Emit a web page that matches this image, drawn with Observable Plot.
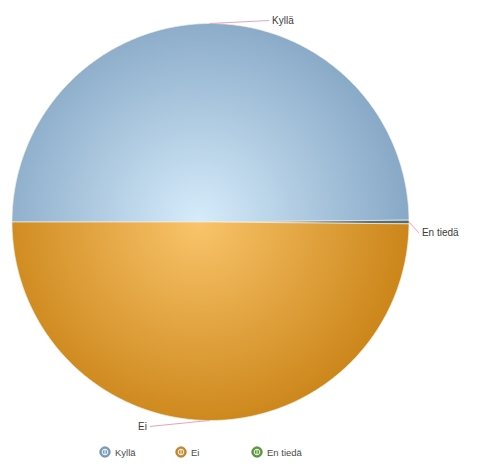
<!DOCTYPE html>
<html>
<head>
<meta charset="utf-8">
<script src="https://cdn.jsdelivr.net/npm/d3@7"></script>
<script src="https://cdn.jsdelivr.net/npm/@observablehq/plot@0.6"></script>
<style>
  body { margin: 0; background: #fff; font-family: "Liberation Sans", Arial, sans-serif; }
  #wrap { width: 478px; height: 466px; position: relative; }
  #legend { display: flex; align-items: center; padding-left: 99px; height: 22px; margin-top: 1px; }
  .item { display: flex; align-items: center; width: 76px; font-size: 9.5px; color: #4a4a4a; }
  .item svg { margin-right: 4px; }
</style>
</head>
<body>
<div id="wrap"><div id="chart"></div><div id="legend"></div></div>
<script>
// ---- data ----
const categories = ["Kyllä", "En tiedä", "Ei"];      // pie order (clockwise from 9 o'clock)
const values = [49.85, 0.3, 49.85];                  // percent
const legendOrder = ["Kyllä", "Ei", "En tiedä"];

// ---- styles ----
const palette = {
  "Kyllä":   { inner: "#d6ecfb", outer: "#88a9c7", icon: "#7f9fbe" },
  "Ei":      { inner: "#f9c46a", outer: "#cc861a", icon: "#c98a2e" },
  "En tiedä":{ inner: "#7f9aa8", outer: "#4f6a78", icon: "#5c9a3c" }
};

const slices = categories.map((name, i) => ({ name, value: values[i], id: "g" + i }));
const arcs = d3.pie().value(d => d.value).sort(null)
  .startAngle(-Math.PI / 2).endAngle(3 * Math.PI / 2)(slices);

// polygon outline of each slice in unit-circle coordinates
function slicePoints(a) {
  const pts = [{ x: 0, y: 0 }];
  const n = Math.max(2, Math.ceil((a.endAngle - a.startAngle) / (Math.PI / 360)));
  for (let k = 0; k <= n; k++) {
    const t = a.startAngle + (a.endAngle - a.startAngle) * k / n;
    pts.push({ x: Math.sin(t), y: Math.cos(t) });
  }
  pts.push({ x: 0, y: 0 });
  return pts;
}

// label leader geometry
const labels = arcs.map(a => {
  const m = (a.startAngle + a.endAngle) / 2;
  const ex = Math.sin(m), ey = Math.cos(m);
  const dir = Math.abs(ex) < 0.05 ? (ey > 0 ? 1 : -1) : Math.sign(ex);
  const small = a.data.value < 5;
  const lx = small ? ex * 1.05 : ex * 1.03 + dir * 0.3;
  const ly = small ? ey * 1.05 - 0.055 : ey * 1.015 + (dir < 0 ? -0.015 : 0.0);
  return { name: a.data.name, ex, ey, lx, ly, dir };
});

const sliceMarks = arcs.map(a =>
  Plot.line(slicePoints(a), {
    x: "x", y: "y",
    fill: `url(#${a.data.id})`,
    stroke: "#f4efe4", strokeWidth: 0.7, curve: "linear"
  })
);

const plot = Plot.plot({
  width: 478, height: 440,
  marginTop: 0, marginBottom: 0, marginLeft: 0, marginRight: 0,
  x: { domain: [-1, 1], range: [11.5, 408.5], axis: null },
  y: { domain: [-1, 1], range: [420, 23], axis: null },
  style: { background: "transparent", fontFamily: "'Liberation Sans', Arial, sans-serif" },
  marks: [
    ...sliceMarks,
    Plot.link(labels, { x1: "ex", y1: "ey", x2: "lx", y2: "ly", stroke: "#e7a3bb", strokeWidth: 1 }),
    Plot.text(labels.filter(d => d.dir > 0), { x: "lx", y: "ly", text: "name", textAnchor: "start", dx: 3, fontSize: 10, fill: "#3a3a3a" }),
    Plot.text(labels.filter(d => d.dir < 0), { x: "lx", y: "ly", text: "name", textAnchor: "end", dx: -3, fontSize: 10, fill: "#3a3a3a" })
  ]
});

// radial gradients centered on the pie
const xs = plot.scale("x"), ys = plot.scale("y");
const cx = xs.apply(0), cy = ys.apply(0), r = xs.apply(1) - xs.apply(0);
const defs = d3.select(plot).insert("defs", ":first-child");
slices.forEach(s => {
  const g = defs.append("radialGradient").attr("id", s.id)
    .attr("gradientUnits", "userSpaceOnUse")
    .attr("cx", cx - 12).attr("cy", cy).attr("r", r * 1.05);
  g.append("stop").attr("offset", "0%").attr("stop-color", palette[s.name].inner);
  g.append("stop").attr("offset", "100%").attr("stop-color", palette[s.name].outer);
});
document.getElementById("chart").appendChild(plot);

// legend
const legend = d3.select("#legend");
legendOrder.forEach(name => {
  const item = legend.append("div").attr("class", "item");
  const svg = item.append("svg").attr("width", 12).attr("height", 12);
  svg.append("circle").attr("cx", 6).attr("cy", 6).attr("r", 5.3)
    .attr("fill", palette[name].icon).attr("stroke", d3.color(palette[name].icon).darker(0.6)).attr("stroke-width", 0.6);
  svg.append("circle").attr("cx", 6).attr("cy", 6).attr("r", 2.8)
    .attr("fill", "none").attr("stroke", "#fff").attr("stroke-width", 0.9);
  svg.append("line").attr("x1", 6).attr("y1", 3.2).attr("x2", 6).attr("y2", 8.8)
    .attr("stroke", "#fff").attr("stroke-width", 0.9);
  item.append("span").text(name);
});
</script>
</body>
</html>
